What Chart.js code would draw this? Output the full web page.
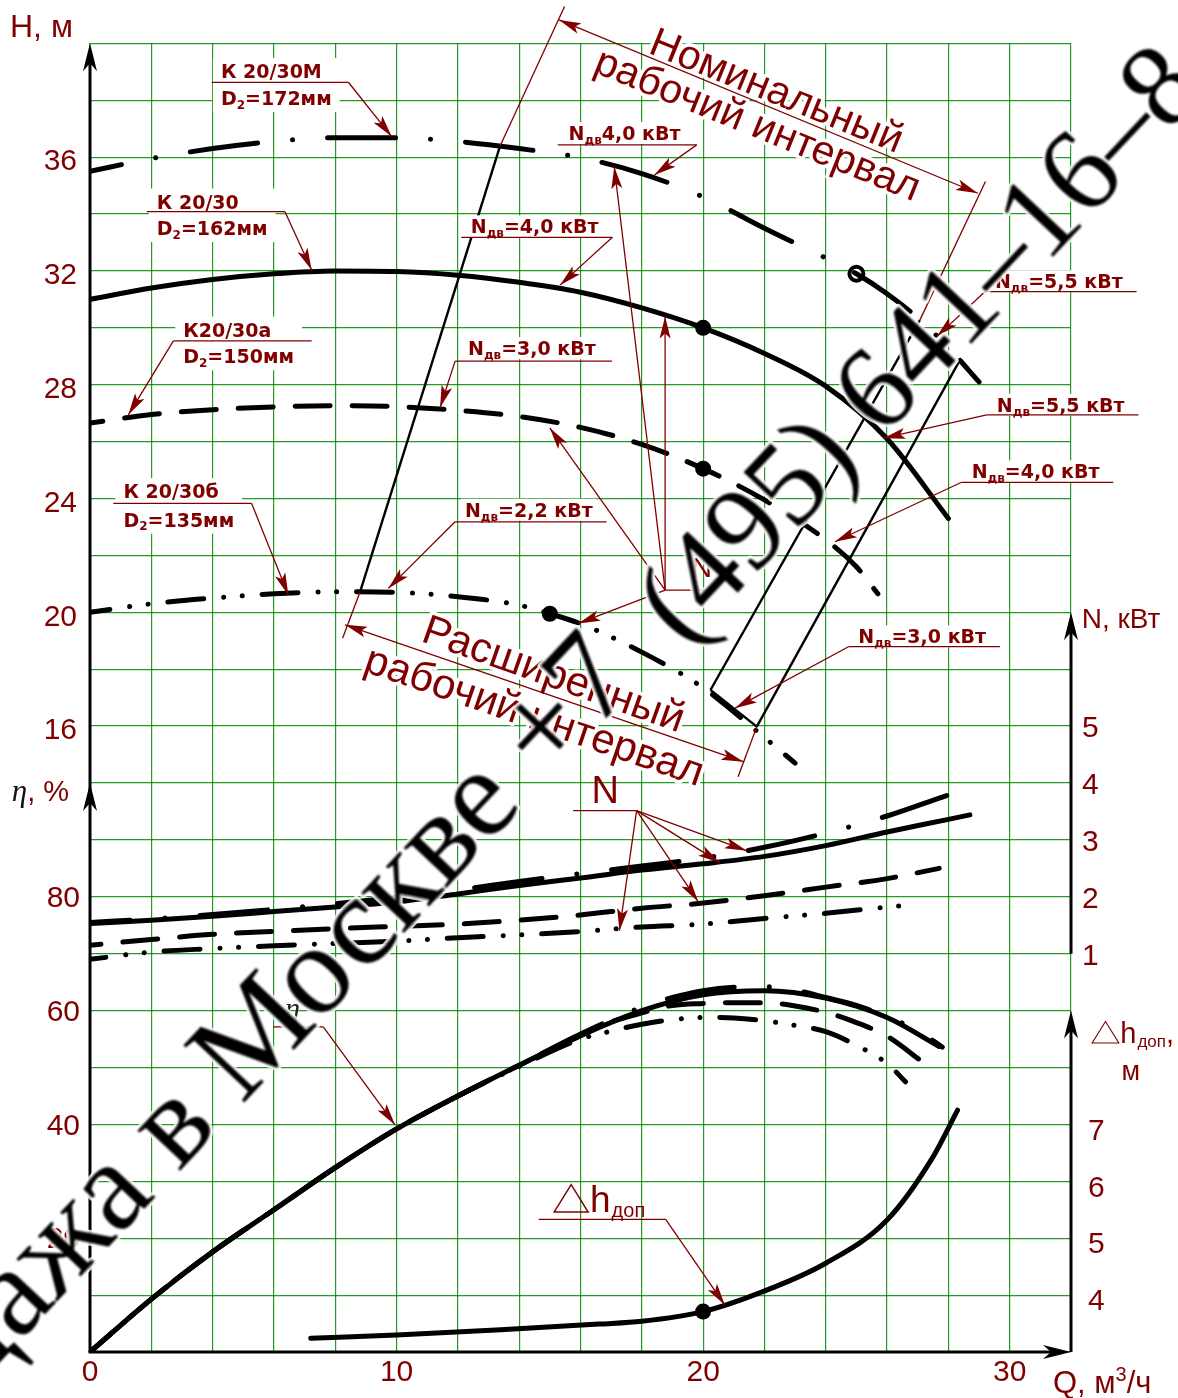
<!DOCTYPE html>
<html lang="ru"><head><meta charset="utf-8"><title>К 20/30</title>
<script src="https://cdn.jsdelivr.net/npm/chart.js@4.4.1/dist/chart.umd.min.js"></script>
<style>html,body{margin:0;padding:0;background:#fff;overflow:hidden}#c{display:block}</style>
</head><body><canvas id="c" width="1178" height="1398"></canvas>
<script>
// ---------------- DATA ----------------
// Q-H characteristics (Q, m3/h ; H, m)
const qH172 = [0,2,4,6,8,10,12,14,16,18,20,22,24,25,26,27,28,29];
const hH172 = [35.5,35.95,36.3,36.55,36.68,36.68,36.55,36.3,35.98,35.42,34.6,33.5,32.45,31.9,31.2,30.35,29.3,28.1];
const qH162 = [0,2,4,6,8,10,12,14,16,18,20,22,24,26,28];
const hH162 = [31.0,31.4,31.7,31.9,32.0,31.98,31.85,31.6,31.25,30.7,30.0,29.1,27.95,26.1,23.3];
const qH150 = [0,2,4,6,8,10,12,14,16,18,20,22,24,25,25.7];
const hH150 = [26.65,26.95,27.12,27.22,27.26,27.23,27.1,26.88,26.5,25.9,25.05,23.95,22.55,21.6,20.65];
const qH135 = [0,2,4,6,8,10,12,14,15,16,18,20,21,22,23];
const hH135 = [20.0,20.3,20.5,20.65,20.72,20.7,20.55,20.25,19.95,19.6,18.6,17.35,16.5,15.6,14.7];
// efficiency (%)
const qEta172 = [0,2,4,6,8,10,12,14,16,18,19,20,21,22,23,24,25,26,27,27.8];
const eta172  = [0,9.3,17.6,25.0,32.4,39.2,45.0,50.4,55.9,60.6,62.3,63.5,64.1,64.2,63.6,62.3,60.9,58.9,56.5,53.6];
const qEta162 = [0,2,4,6,8,10,12,14,16,18,20,22,24,26,27.7];
const eta162  = [0,9.3,17.6,25.0,32.4,39.2,45.0,50.4,55.6,60.0,62.8,63.5,62.2,58.8,53.7];
const qEta150 = [0,2,4,6,8,10,12,14,16,17,18,19,20,21,22,23,24,25,26,27.2];
const eta150  = [0,9.3,17.6,25.0,32.4,39.2,45.0,50.4,55.6,58.0,59.6,60.9,61.25,61.4,61.4,60.8,59.7,57.9,55.5,50.8];
const qEta135 = [0,2,4,6,8,10,12,14,16,17,18,19,20,21,22,23,24,25,26,26.6];
const eta135  = [0,9.3,17.6,25.0,32.4,39.2,45.0,50.2,55.0,56.4,57.6,58.4,58.8,58.7,58.2,57.4,56.3,53.9,50.7,47.5];
// power (kW)
const qN172 = [0,2,4,6,8,10,12,14,16,18,20,22,24,26,28,28.4];
const n172  = [1.55,1.61,1.69,1.78,1.88,1.99,2.12,2.27,2.41,2.54,2.68,2.87,3.12,3.42,3.79,3.86];
const qN162 = [0,2,4,6,8,10,12,14,16,18,20,22,24,26,28,28.7];
const n162  = [1.53,1.59,1.66,1.74,1.82,1.91,2.05,2.2,2.33,2.47,2.58,2.71,2.9,3.14,3.36,3.44];
const qN150 = [0,2,4,6,8,10,12,14,16,18,20,22,24,26,27.7];
const n150  = [1.15,1.25,1.34,1.39,1.44,1.48,1.52,1.59,1.68,1.8,1.89,2.02,2.17,2.32,2.5];
const qN135 = [0,2,4,6,8,10,12,14,16,18,20,22,24,26,26.4];
const n135  = [0.9,1.03,1.09,1.14,1.18,1.22,1.28,1.33,1.39,1.47,1.52,1.62,1.71,1.82,1.84];
// NPSH required (m)
const qDh = [7.2,10,13.4,16.6,18,20,21.8,24,26,27.5,28.3];
const dh  = [3.24,3.3,3.39,3.49,3.54,3.71,4.03,4.56,5.32,6.43,7.25];
// duty points
const ringQ = [25], ringH = [31.9];
const dotQ = [20, 20, 15], dotH = [30.0, 25.05, 19.95];
const dhDotQ = [20], dhDotV = [3.71];
// tick labels
const Q_LABELS = [0, 10, 20, 30];
const H_LABELS = [16, 20, 24, 28, 32, 36];
const ETA_LABELS = [20, 40, 60, 80];
const N_LABELS = [1, 2, 3, 4, 5];
const DH_LABELS = [4, 5, 6, 7];

// ---------------- STYLE ----------------
const MAROON = '#800000';
const GRID = 'rgba(0,135,0,0.85)';
const SANS = '"Liberation Sans", Arial, sans-serif';
const BOLD = '"DejaVu Sans", "Liberation Sans", sans-serif';
const SERIF = '"Liberation Serif", "DejaVu Serif", serif';
const DASH = {solid: [], dashed: [35, 22], dashDot: [68, 35, 0.1, 35], dashDotDot: [36, 20, 0.1, 18.5, 0.1, 19.8]};
Chart.defaults.font.family = SANS;

const pts = (qs, vs) => qs.map((q, i) => ({x: q, y: vs[i]}));
function curve(label, qs, vs, axis, dash, offset) {
  return {type: 'line', label, data: pts(qs, vs), xAxisID: 'x', yAxisID: axis,
    borderColor: '#000', borderWidth: 5, borderDash: dash, borderDashOffset: offset || 0,
    borderCapStyle: 'round', borderJoinStyle: 'round',
    pointRadius: 0, pointHoverRadius: 0, fill: false, cubicInterpolationMode: 'monotone'};
}
function markers(label, qs, vs, axis, r, bg, bw) {
  return {type: 'line', label, data: pts(qs, vs), xAxisID: 'x', yAxisID: axis, showLine: false,
    pointRadius: r, pointBackgroundColor: bg, pointBorderColor: '#000', pointBorderWidth: bw};
}

// ---------------- DRAW HELPERS ----------------
function seg(ctx, x1, y1, x2, y2) { ctx.beginPath(); ctx.moveTo(x1, y1); ctx.lineTo(x2, y2); ctx.stroke(); }
function axisArrow(ctx, tx, ty, ux, uy) {
  const L = 28, W = 7, N = 20, nx = -uy, ny = ux;
  ctx.beginPath(); ctx.moveTo(tx, ty);
  ctx.lineTo(tx - ux * L + nx * W, ty - uy * L + ny * W);
  ctx.lineTo(tx - ux * N, ty - uy * N);
  ctx.lineTo(tx - ux * L - nx * W, ty - uy * L - ny * W);
  ctx.closePath(); ctx.fillStyle = '#000'; ctx.fill();
}
function arrowHead(ctx, x0, y0, x1, y1) {
  const len = 22, half = 5.5;
  const dx = x1 - x0, dy = y1 - y0, d = Math.hypot(dx, dy), ux = dx / d, uy = dy / d, nx = -uy, ny = ux;
  const bx = x1 - ux * len, by = y1 - uy * len;
  ctx.beginPath(); ctx.moveTo(x1, y1);
  ctx.lineTo(bx + nx * half, by + ny * half);
  ctx.lineTo(x1 - ux * len * 0.78, y1 - uy * len * 0.78);
  ctx.lineTo(bx - nx * half, by - ny * half);
  ctx.closePath(); ctx.fillStyle = MAROON; ctx.fill();
}
function drawRich(ctx, x, y, parts, size, weight, family, color, doDraw) {
  let cx = x;
  ctx.textAlign = 'left'; ctx.textBaseline = 'alphabetic'; ctx.fillStyle = color;
  for (const p of parts) {
    const mode = p[1];
    const s = mode ? Math.round(size * 0.65) : size;
    ctx.font = `${weight} ${s}px ${family}`;
    const dy = mode === 'sub' ? size * 0.2 : (mode === 'sup' ? -size * 0.38 : 0);
    if (doDraw) ctx.fillText(p[0], cx, y + dy);
    cx += ctx.measureText(p[0]).width;
  }
  return cx - x;
}

function drawDecor(chart) {
  const ctx = chart.ctx;
  const sx = chart.scales.x, sH = chart.scales.yH, sE = chart.scales.yE, sN = chart.scales.yN, sD = chart.scales.yD;
  const P = (q, h) => [sx.getPixelForValue(q), sH.getPixelForValue(h)];
  const line = (a, b, color, w) => { const p = P(a[0], a[1]), r = P(b[0], b[1]); ctx.strokeStyle = color; ctx.lineWidth = w; seg(ctx, p[0], p[1], r[0], r[1]); };
  const leader = (a, b) => { const p = P(a[0], a[1]), r = P(b[0], b[1]); ctx.strokeStyle = MAROON; ctx.lineWidth = 1.3; seg(ctx, p[0], p[1], r[0], r[1]); arrowHead(ctx, p[0], p[1], r[0], r[1]); };
  const dimArrow = (a, b) => { const p = P(a[0], a[1]), r = P(b[0], b[1]); ctx.strokeStyle = MAROON; ctx.lineWidth = 1.3; seg(ctx, p[0], p[1], r[0], r[1]); arrowHead(ctx, p[0], p[1], r[0], r[1]); arrowHead(ctx, r[0], r[1], p[0], p[1]); };
  ctx.save();
  ctx.lineCap = 'butt';

  // ---- axes ----
  const X0 = sx.getPixelForValue(0), XR = sx.getPixelForValue(32);
  const YB = sH.getPixelForValue(-6), YT = sH.getPixelForValue(40);
  ctx.strokeStyle = '#000'; ctx.lineWidth = 3;
  seg(ctx, X0, YB, X0, YT + 20);
  seg(ctx, X0 - 1.5, YB, XR - 20, YB);
  const yN1 = sN.getPixelForValue(1), yN7 = sN.getPixelForValue(7), yD9 = sD.getPixelForValue(9);
  seg(ctx, XR, yN1, XR, yN7 + 20);
  seg(ctx, XR, YB, XR, yD9 + 20);
  axisArrow(ctx, X0, YT, 0, -1);
  axisArrow(ctx, X0, sE.getPixelForValue(100), 0, -1);
  axisArrow(ctx, XR, yN7, 0, -1);
  axisArrow(ctx, XR, yD9, 0, -1);
  axisArrow(ctx, XR, YB, 1, 0);

  // ---- axis titles ----
  ctx.textAlign = 'left'; ctx.textBaseline = 'alphabetic'; ctx.fillStyle = MAROON;
  let p = P(-2.61, 40.22); ctx.font = `32px ${SANS}`; ctx.fillText('H, м', p[0], p[1]);
  p = P(-2.55, 13.37); ctx.font = `italic 31px ${SERIF}`; ctx.fillStyle = '#111'; ctx.fillText('η', p[0], p[1]);
  let w = ctx.measureText('η').width; ctx.font = `29px ${SANS}`; ctx.fillStyle = MAROON; ctx.fillText(', %', p[0] + w, p[1]);
  p = P(32.35, 19.45); ctx.font = `28px ${SANS}`; ctx.fillText('N, кВт', p[0], p[1]);
  p = P(31.41, -7.44); drawRich(ctx, p[0], p[1], [['Q, м'], ['3', 'sup'], ['/ч']], 31, 'normal', SANS, MAROON, true);
  const deltaH = (x, y, size, subScale, comma) => {
    const tw = size * 0.92, th = size * 0.74;
    ctx.strokeStyle = MAROON; ctx.lineWidth = Math.max(1, size / 26);
    ctx.beginPath(); ctx.moveTo(x, y); ctx.lineTo(x + tw, y); ctx.lineTo(x + tw / 2, y - th); ctx.closePath(); ctx.stroke();
    let cx = x + tw + size * 0.05;
    ctx.fillStyle = MAROON; ctx.font = `${size}px ${SANS}`; ctx.fillText('h', cx, y); cx += ctx.measureText('h').width + 1;
    ctx.font = `${Math.round(size * subScale)}px ${SANS}`; ctx.fillText('доп', cx, y + size * 0.13); cx += ctx.measureText('доп').width;
    if (comma) { ctx.font = `${size}px ${SANS}`; ctx.fillText(',', cx, y); }
  };
  p = P(32.69, 4.86); deltaH(p[0], p[1], 29, 0.58, true);
  p = P(33.65, 3.56); ctx.font = `27px ${SANS}`; ctx.fillStyle = MAROON; ctx.fillText('м', p[0], p[1]);

  // ---- working interval boundaries (thin black) ----
  line([8.81, 20.72], [13.38, 36.4], '#000', 2.4);
  line([20.24, 17.27], [27.07, 30.27], '#000', 2.4);
  line([21.75, 15.98], [28.38, 28.87], '#000', 2.4);
  line([20.24, 17.27], [21.75, 15.98], '#000', 2.4);
  // extension lines (maroon)
  line([13.38, 36.4], [15.48, 41.29], MAROON, 1.3);
  line([27.07, 30.27], [29.21, 35.14], MAROON, 1.3);
  line([8.81, 20.72], [8.24, 19.09], MAROON, 1.3);
  line([21.75, 15.98], [21.14, 14.22], MAROON, 1.3);

  // ---- rotated interval captions ----
  const rot = (text, q, h, deg, size) => {
    const r = P(q, h);
    ctx.save(); ctx.translate(r[0], r[1]); ctx.rotate(deg * Math.PI / 180);
    ctx.font = `${size}px ${SANS}`; ctx.textAlign = 'center'; ctx.textBaseline = 'middle';
    ctx.lineJoin = 'round'; ctx.strokeStyle = '#fff'; ctx.lineWidth = 7; ctx.strokeText(text, 0, 0);
    ctx.fillStyle = MAROON; ctx.fillText(text, 0, 0);
    ctx.restore();
  };
  rot('Номинальный', 22.38, 38.27, 22, 41);
  rot('рабочий интервал', 21.76, 37.09, 22, 41);
  rot('Расширенный', 15.11, 17.77, 19.5, 42);
  rot('рабочий интервал', 14.48, 16.3, 19, 42);
  dimArrow([15.3, 40.82], [28.96, 34.73]);
  dimArrow([8.32, 19.56], [21.31, 14.75]);

  // ---- impeller labels (two lines, white box) ----
  const kLabel = (l1, l2, q, h1, h2, ul, fromRight, tip) => {
    const a = P(q, h1), b = P(q, h2);
    ctx.font = `bold 19px ${BOLD}`;
    const w1 = ctx.measureText(l1).width;
    const w2 = drawRich(ctx, 0, 0, l2, 19, 'bold', BOLD, MAROON, false);
    ctx.fillStyle = '#fff'; ctx.fillRect(a[0] - 8, a[1] - 20, Math.max(w1, w2) + 16, b[1] - a[1] + 27);
    ctx.fillStyle = MAROON; ctx.font = `bold 19px ${BOLD}`; ctx.textAlign = 'left'; ctx.textBaseline = 'alphabetic';
    ctx.fillText(l1, a[0], a[1]);
    drawRich(ctx, a[0], b[1], l2, 19, 'bold', BOLD, MAROON, true);
    line([ul[0], ul[2]], [ul[1], ul[2]], MAROON, 1.3);
    leader(fromRight ? [ul[1], ul[2]] : [ul[0], ul[2]], tip);
  };
  kLabel('К 20/30М', [['D'], ['2', 'sub'], ['=172мм']], 4.27, 38.78, 37.83, [3.97, 8.43, 38.63], true, [9.84, 36.72]);
  kLabel('К 20/30', [['D'], ['2', 'sub'], ['=162мм']], 2.18, 34.19, 33.26, [1.85, 6.36, 34.08], true, [7.23, 32.03]);
  kLabel('К20/30а', [['D'], ['2', 'sub'], ['=150мм']], 3.04, 29.69, 28.75, [2.72, 7.23, 29.54], false, [1.25, 26.94]);
  kLabel('К 20/30б', [['D'], ['2', 'sub'], ['=135мм']], 1.09, 24.01, 23.01, [0.76, 5.27, 23.83], true, [6.47, 20.61]);

  // ---- motor power labels ----
  const nLabel = (val, q, h, ul, fromRight, tip) => {
    const a = P(q, h);
    const parts = [['N'], ['дв', 'sub'], [val]];
    const wd = drawRich(ctx, 0, 0, parts, 19, 'bold', BOLD, MAROON, false);
    ctx.fillStyle = '#fff'; ctx.fillRect(a[0] - 4, a[1] - 18, wd + 8, 22);
    drawRich(ctx, a[0], a[1], parts, 19, 'bold', BOLD, MAROON, true);
    line([ul[0], ul[2]], [ul[1], ul[2]], MAROON, 1.3);
    leader(fromRight ? [ul[1], ul[2]] : [ul[0], ul[2]], tip);
  };
  nLabel('4,0 кВт', 15.61, 36.6, [15.26, 19.79, 36.43], true, [18.41, 35.37]);
  nLabel('=4,0 кВт', 12.42, 33.32, [12.11, 17.04, 33.18], true, [15.33, 31.5]);
  nLabel('=3,0 кВт', 12.33, 29.04, [11.91, 17.03, 28.83], false, [11.42, 27.2]);
  nLabel('=2,2 кВт', 12.23, 23.36, [11.91, 16.85, 23.18], false, [9.73, 20.84]);
  nLabel('=5,5 кВт', 29.52, 31.39, [29.19, 34.14, 31.27], false, [27.62, 29.69]);
  nLabel('=5,5 кВт', 29.58, 27.05, [29.25, 34.2, 26.94], false, [25.88, 26.12]);
  nLabel('=4,0 кВт', 28.76, 24.71, [28.43, 33.38, 24.57], false, [24.3, 22.48]);
  nLabel('=3,0 кВт', 25.06, 18.91, [24.74, 29.68, 18.79], false, [21.04, 16.63]);

  // ---- "N" fan of leaders in the H field ----
  p = P(19.63, 21.25); ctx.font = `28px ${SANS}`; ctx.fillStyle = MAROON; ctx.fillText('N', p[0], p[1]);
  line([18.76, 20.78], [20.22, 20.78], MAROON, 1.3);
  [[17.1, 35.66], [18.76, 30.4], [15.0, 26.48], [15.93, 19.61]].forEach(t => leader([18.76, 20.78], t));

  // ---- power curves label ----
  p = P(16.36, 13.29); ctx.font = `38px ${SANS}`; ctx.fillStyle = MAROON; ctx.fillText('N', p[0], p[1]);
  line([15.76, 13.03], [17.83, 13.03], MAROON, 1.3);
  [[21.42, 11.62], [20.55, 11.2], [19.84, 9.83], [17.27, 8.81]].forEach(t => leader([17.83, 13.03], t));

  // ---- efficiency label ----
  p = P(6.36, 5.73); ctx.font = `italic 30px ${SERIF}`; ctx.fillStyle = '#222'; ctx.fillText('η', p[0], p[1]);
  line([5.97, 5.43], [7.61, 5.43], MAROON, 1.3);
  leader([7.61, 5.43], [9.95, 1.98]);

  // ---- NPSH label ----
  p = P(15.14, -1.08); deltaH(p[0], p[1], 37, 0.55, false);
  line([14.64, -1.34], [18.78, -1.34], MAROON, 1.3);
  leader([18.78, -1.34], [20.71, -4.35]);
  ctx.restore();
}

// watermark, drawn in two runs, each pinned by the centres of two of its glyphs
const WM_RUNS = [
  {text: 'Продажа в Москве +7', i0: 10, a: [5.22, 5.14], b: [16.21, 17.72]},
  {text: '(495) 641–16–8', i0: 0, a: [18.92, 20.18], b: [34.9, 38.53]}
];
function drawWatermark(chart) {
  const ctx = chart.ctx, sx = chart.scales.x, sH = chart.scales.yH;
  const P = (q, h) => [sx.getPixelForValue(q), sH.getPixelForValue(h)];
  for (const run of WM_RUNS) {
    const a = P(run.a[0], run.a[1]), b = P(run.b[0], run.b[1]);
    const t = run.text;
    ctx.save();
    ctx.font = `100px ${SERIF}`;
    const pre = ctx.measureText(t.slice(0, run.i0)).width;
    const w0 = ctx.measureText(t[run.i0]).width;
    const wAll = ctx.measureText(t).width;
    const wLast = ctx.measureText(t.slice(-1)).width;
    const d100 = (wAll - wLast / 2) - (pre + w0 / 2);
    const size = 100 * Math.hypot(b[0] - a[0], b[1] - a[1]) / d100;
    ctx.translate(a[0], a[1]); ctx.rotate(Math.atan2(b[1] - a[1], b[0] - a[0]));
    ctx.font = `${size}px ${SERIF}`; ctx.textAlign = 'left'; ctx.textBaseline = 'alphabetic';
    const x0 = -(pre + w0 / 2) * size / 100, y0 = size * 0.33;
    ctx.lineJoin = 'round'; ctx.strokeStyle = 'rgba(255,255,255,0.85)'; ctx.lineWidth = 6;
    ctx.strokeText(t, x0, y0);
    ctx.filter = 'blur(0.8px)';
    ctx.fillStyle = '#000'; ctx.fillText(t, x0, y0);
    ctx.restore();
  }
}

const decor = {
  id: 'decor',
  afterLayout(chart) {
    // secondary axes share the positions of the primary ones
    const a = chart.chartArea;
    const e = chart.scales.yE; e.left = 0; e.right = a.left; e.width = a.left;
    const n = chart.scales.yN; n.left = a.right; n.right = chart.width; n.width = chart.width - a.right;
  },
  beforeDraw(chart) { const c = chart.ctx; c.save(); c.fillStyle = '#fff'; c.fillRect(0, 0, chart.width, chart.height); c.restore(); },
  afterDatasetsDraw(chart) { drawDecor(chart); },
  afterDraw(chart) { drawWatermark(chart); }
};

const tickFont = {family: SANS, size: 30};
new Chart(document.getElementById('c'), {
  type: 'line',
  data: {datasets: [
    curve('К 20/30М H', qH172, hH172, 'yH', DASH.dashDot, 36),
    curve('К 20/30 H', qH162, hH162, 'yH', DASH.solid),
    curve('К 20/30а H', qH150, hH150, 'yH', DASH.dashed, 22),
    curve('К 20/30б H', qH135, hH135, 'yH', DASH.dashDotDot, 16),
    curve('К 20/30М η', qEta172, eta172, 'yE', DASH.dashDot, 10),
    curve('К 20/30 η', qEta162, eta162, 'yE', DASH.solid),
    curve('К 20/30а η', qEta150, eta150, 'yE', DASH.dashed, 5),
    curve('К 20/30б η', qEta135, eta135, 'yE', DASH.dashDotDot, 30),
    curve('К 20/30М N', qN172, n172, 'yN', DASH.dashDot, 28),
    curve('К 20/30 N', qN162, n162, 'yN', DASH.solid),
    curve('К 20/30а N', qN150, n150, 'yN', DASH.dashed, 24),
    curve('К 20/30б N', qN135, n135, 'yN', DASH.dashDotDot, 20),
    curve('Δh доп', qDh, dh, 'yD', DASH.solid),
    markers('duty М', ringQ, ringH, 'yH', 7, '#fff', 4),
    markers('duty', dotQ, dotH, 'yH', 8, '#000', 0),
    markers('duty Δh', dhDotQ, dhDotV, 'yD', 8, '#000', 0)
  ]},
  options: {
    responsive: false, animation: false, devicePixelRatio: 1,
    layout: {padding: {top: 43.3, left: 0, right: 0, bottom: 0}},
    plugins: {legend: {display: false}, tooltip: {enabled: false}},
    events: [],
    scales: {
      x: {type: 'linear', position: 'bottom', min: 0, max: 32,
        afterFit: s => { s.height = 46; },
        grid: {color: GRID, lineWidth: 1.2, drawTicks: false}, border: {display: false},
        ticks: {stepSize: 2, autoSkip: false, maxRotation: 0, padding: 3, color: MAROON, font: tickFont,
          callback: v => Q_LABELS.includes(v) ? String(v) : ''}},
      yH: {type: 'linear', position: 'left', weight: 1, min: -6, max: 40,
        afterFit: s => { s.width = 90; },
        grid: {color: GRID, lineWidth: 1.2, drawTicks: false}, border: {display: false},
        ticks: {stepSize: 2, autoSkip: false, padding: 13, labelOffset: 5, color: MAROON, font: tickFont,
          callback: v => H_LABELS.includes(v) ? String(v) : ''}},
      yE: {type: 'linear', position: 'left', weight: 2, min: 0, max: 230,
        afterFit: s => { s.width = 0; },
        grid: {display: false, drawTicks: false}, border: {display: false},
        ticks: {stepSize: 10, autoSkip: false, padding: 10, labelOffset: 2, color: MAROON, font: tickFont,
          callback: v => ETA_LABELS.includes(v) ? String(v) : ''}},
      yN: {type: 'linear', position: 'right', weight: 2, min: -6, max: 17,
        afterFit: s => { s.width = 0; },
        grid: {display: false, drawTicks: false}, border: {display: false},
        ticks: {stepSize: 1, autoSkip: false, padding: 11, labelOffset: 3, color: MAROON, font: tickFont,
          callback: v => N_LABELS.includes(v) ? String(v) : ''}},
      yD: {type: 'linear', position: 'right', weight: 1, min: 3, max: 26,
        afterFit: s => { s.width = 107; },
        grid: {display: false, drawTicks: false}, border: {display: false},
        ticks: {stepSize: 1, autoSkip: false, padding: 17, labelOffset: 7, color: MAROON, font: tickFont,
          callback: v => DH_LABELS.includes(v) ? String(v) : ''}}
    }
  },
  plugins: [decor]
});
</script>
</body></html>
